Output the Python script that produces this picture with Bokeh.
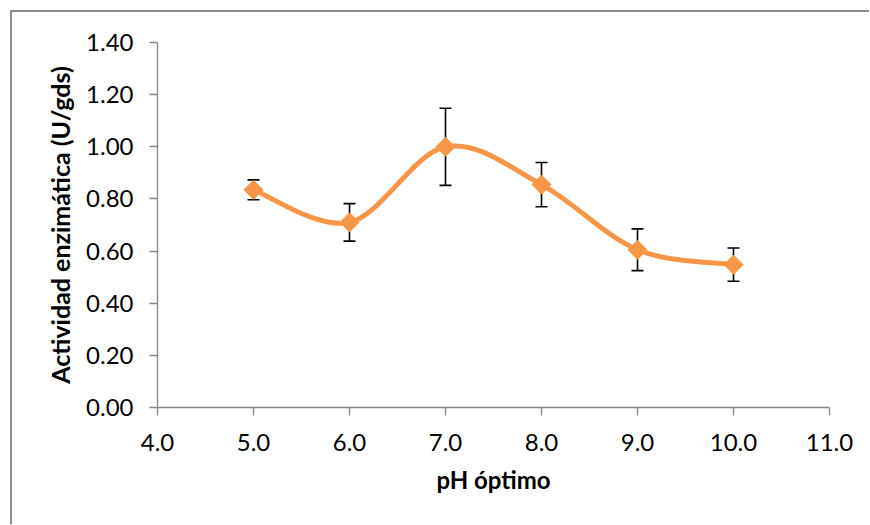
from bokeh.plotting import figure
from bokeh.models import Range1d, FixedTicker, NumeralTickFormatter, ColumnDataSource
from bokeh.embed import file_html
from bokeh.resources import INLINE

# Enzyme activity versus pH
ph = [5.0, 6.0, 7.0, 8.0, 9.0, 10.0]
activity = [0.835, 0.71, 1.00, 0.855, 0.605, 0.548]
error = [0.038, 0.072, 0.148, 0.085, 0.080, 0.064]

x_ticks = [4.0, 5.0, 6.0, 7.0, 8.0, 9.0, 10.0, 11.0]
y_ticks = [0.0, 0.2, 0.4, 0.6, 0.8, 1.0, 1.2, 1.4]

ORANGE = "#F79646"
AXIS_GREY = "#868686"
FONT = "Lato"

p = figure(width=859, height=514, output_backend="svg", toolbar_location=None,
           x_range=Range1d(4.0, 11.0), y_range=Range1d(0.0, 1.4),
           min_border_left=145, min_border_right=42, min_border_top=30,
           min_border_bottom=119)
p.styles = {"margin-left": "10px", "margin-top": "10px",
            "border-left": "2px solid #8c8c8c", "border-top": "2px solid #8c8c8c"}
p.outline_line_color = None
p.grid.visible = False
p.background_fill_color = "white"
p.border_fill_color = "white"

for ax, ticks, fmt in ((p.xaxis[0], x_ticks, "0.0"), (p.yaxis[0], y_ticks, "0.00")):
    ax.ticker = FixedTicker(ticks=ticks)
    ax.formatter = NumeralTickFormatter(format=fmt)
    ax.axis_line_color = AXIS_GREY
    ax.axis_line_width = 1.3
    ax.major_tick_line_color = AXIS_GREY
    ax.major_tick_line_width = 1.3
    ax.major_tick_in = 0
    ax.major_tick_out = 8
    ax.minor_tick_line_color = None
    ax.major_label_text_font = FONT
    ax.major_label_text_font_size = "24px"
    ax.major_label_text_color = "black"
    ax.axis_label_text_font = FONT
    ax.axis_label_text_font_style = "bold"
    ax.axis_label_text_color = "black"

p.xaxis.major_label_standoff = 18
p.yaxis.major_label_standoff = 16
p.xaxis.axis_label = "pH óptimo"
p.yaxis.axis_label = "Actividad enzimática (U/gds)"
p.xaxis.axis_label_text_font_size = "24px"
p.yaxis.axis_label_text_font_size = "25px"
p.xaxis.axis_label_standoff = 11
p.yaxis.axis_label_standoff = 8

# error bars with caps
lower = [a - e for a, e in zip(activity, error)]
upper = [a + e for a, e in zip(activity, error)]
p.segment(x0=ph, y0=lower, x1=ph, y1=upper, line_color="black", line_width=1.6)
p.scatter(x=ph + ph, y=lower + upper, marker="dash", size=12,
          line_color="black", line_width=1.6)

# smoothed connecting line (cubic Bezier segments through the points)
n = len(ph)
bz = dict(x0=[], y0=[], x1=[], y1=[], cx0=[], cy0=[], cx1=[], cy1=[])
for i in range(n - 1):
    x_prev, y_prev = (ph[i - 1], activity[i - 1]) if i > 0 else (ph[i], activity[i])
    x_next, y_next = (ph[i + 2], activity[i + 2]) if i + 2 < n else (ph[i + 1], activity[i + 1])
    bz["x0"].append(ph[i]); bz["y0"].append(activity[i])
    bz["x1"].append(ph[i + 1]); bz["y1"].append(activity[i + 1])
    bz["cx0"].append(ph[i] + (ph[i + 1] - x_prev) / 6)
    bz["cy0"].append(activity[i] + (activity[i + 1] - y_prev) / 6)
    bz["cx1"].append(ph[i + 1] - (x_next - ph[i]) / 6)
    bz["cy1"].append(activity[i + 1] - (y_next - activity[i]) / 6)
p.bezier(source=ColumnDataSource(bz), x0="x0", y0="y0", x1="x1", y1="y1",
         cx0="cx0", cy0="cy0", cx1="cx1", cy1="cy1",
         line_color=ORANGE, line_width=5, line_cap="round")

# diamond markers
p.scatter(x=ph, y=activity, marker="square", angle=0.785398, size=13.5,
          fill_color=ORANGE, line_color=ORANGE, line_width=1)

open("out.html", "w").write(file_html(p, INLINE))
